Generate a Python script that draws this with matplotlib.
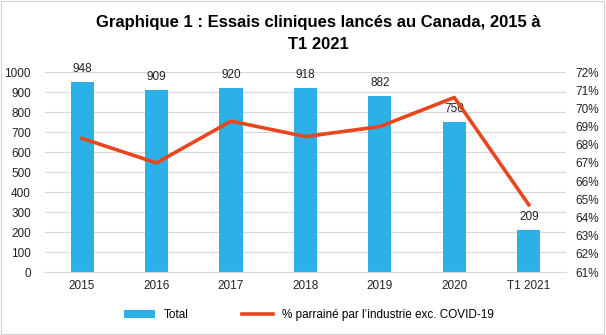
import numpy as np
import matplotlib.pyplot as plt
from matplotlib.patches import Rectangle

plt.rcParams['font.family'] = ['Liberation Sans', 'DejaVu Sans']

categories = ['2015', '2016', '2017', '2018', '2019', '2020', 'T1 2021']
total = [948, 909, 920, 918, 882, 750, 209]
pct_industry = [68.35, 67.0, 69.3, 68.45, 69.0, 70.6, 64.7]

bar_color = '#2BB1E8'
line_color = '#E8461E'

fig = plt.figure(figsize=(6.06, 3.35), dpi=100)
ax1 = fig.add_axes([0.074, 0.188, 0.86, 0.597])
ax2 = ax1.twinx()

x = np.arange(len(categories))
bars = ax1.bar(x, total, width=0.31, color=bar_color, label='Total', zorder=2)
for xi, v in zip(x, total):
    ax1.text(xi, v + 35, str(v), ha='center', va='bottom', fontsize=8.5, color='#222222')

line, = ax2.plot(x, pct_industry, color=line_color, lw=2.6,
                 label='% parrainé par l\u2019industrie exc. COVID-19', zorder=3)

ax1.set_xlim(-0.5, len(categories) - 0.5)
ax1.set_ylim(0, 1000)
ax1.set_yticks(range(0, 1001, 100))
ax2.set_ylim(61, 72)
ax2.set_yticks(range(61, 73))
ax2.set_yticklabels([f'{t}%' for t in range(61, 73)])
ax1.set_xticks(x)
ax1.set_xticklabels(categories)

ax1.grid(axis='y', color='#D9D9D9', lw=0.8, zorder=0)
ax1.set_axisbelow(True)
for a in (ax1, ax2):
    for s in a.spines.values():
        s.set_visible(False)
    a.tick_params(length=0, labelsize=8.5, colors='#222222')
ax1.spines['bottom'].set_visible(True)
ax1.spines['bottom'].set_color('#D9D9D9')
ax1.tick_params(axis='y', pad=10)
ax1.tick_params(axis='x', pad=6)
ax2.tick_params(axis='y', pad=7)

fig.text(0.525, 0.955, 'Graphique 1 : Essais cliniques lancés au Canada, 2015 à\nT1 2021',
         ha='center', va='top', fontsize=12, fontweight='bold', linespacing=1.6)

fig.legend(handles=[bars, line], loc='center', bbox_to_anchor=(0.51, 0.06), ncol=2,
           frameon=False, fontsize=8.5, handlelength=2.6, columnspacing=4.5)

fig.patches.append(Rectangle((0.002, 0.003), 0.995, 0.993, transform=fig.transFigure,
                             fill=False, edgecolor='#D0D0D0', lw=0.8))

fig.savefig('out.png', dpi=100)
